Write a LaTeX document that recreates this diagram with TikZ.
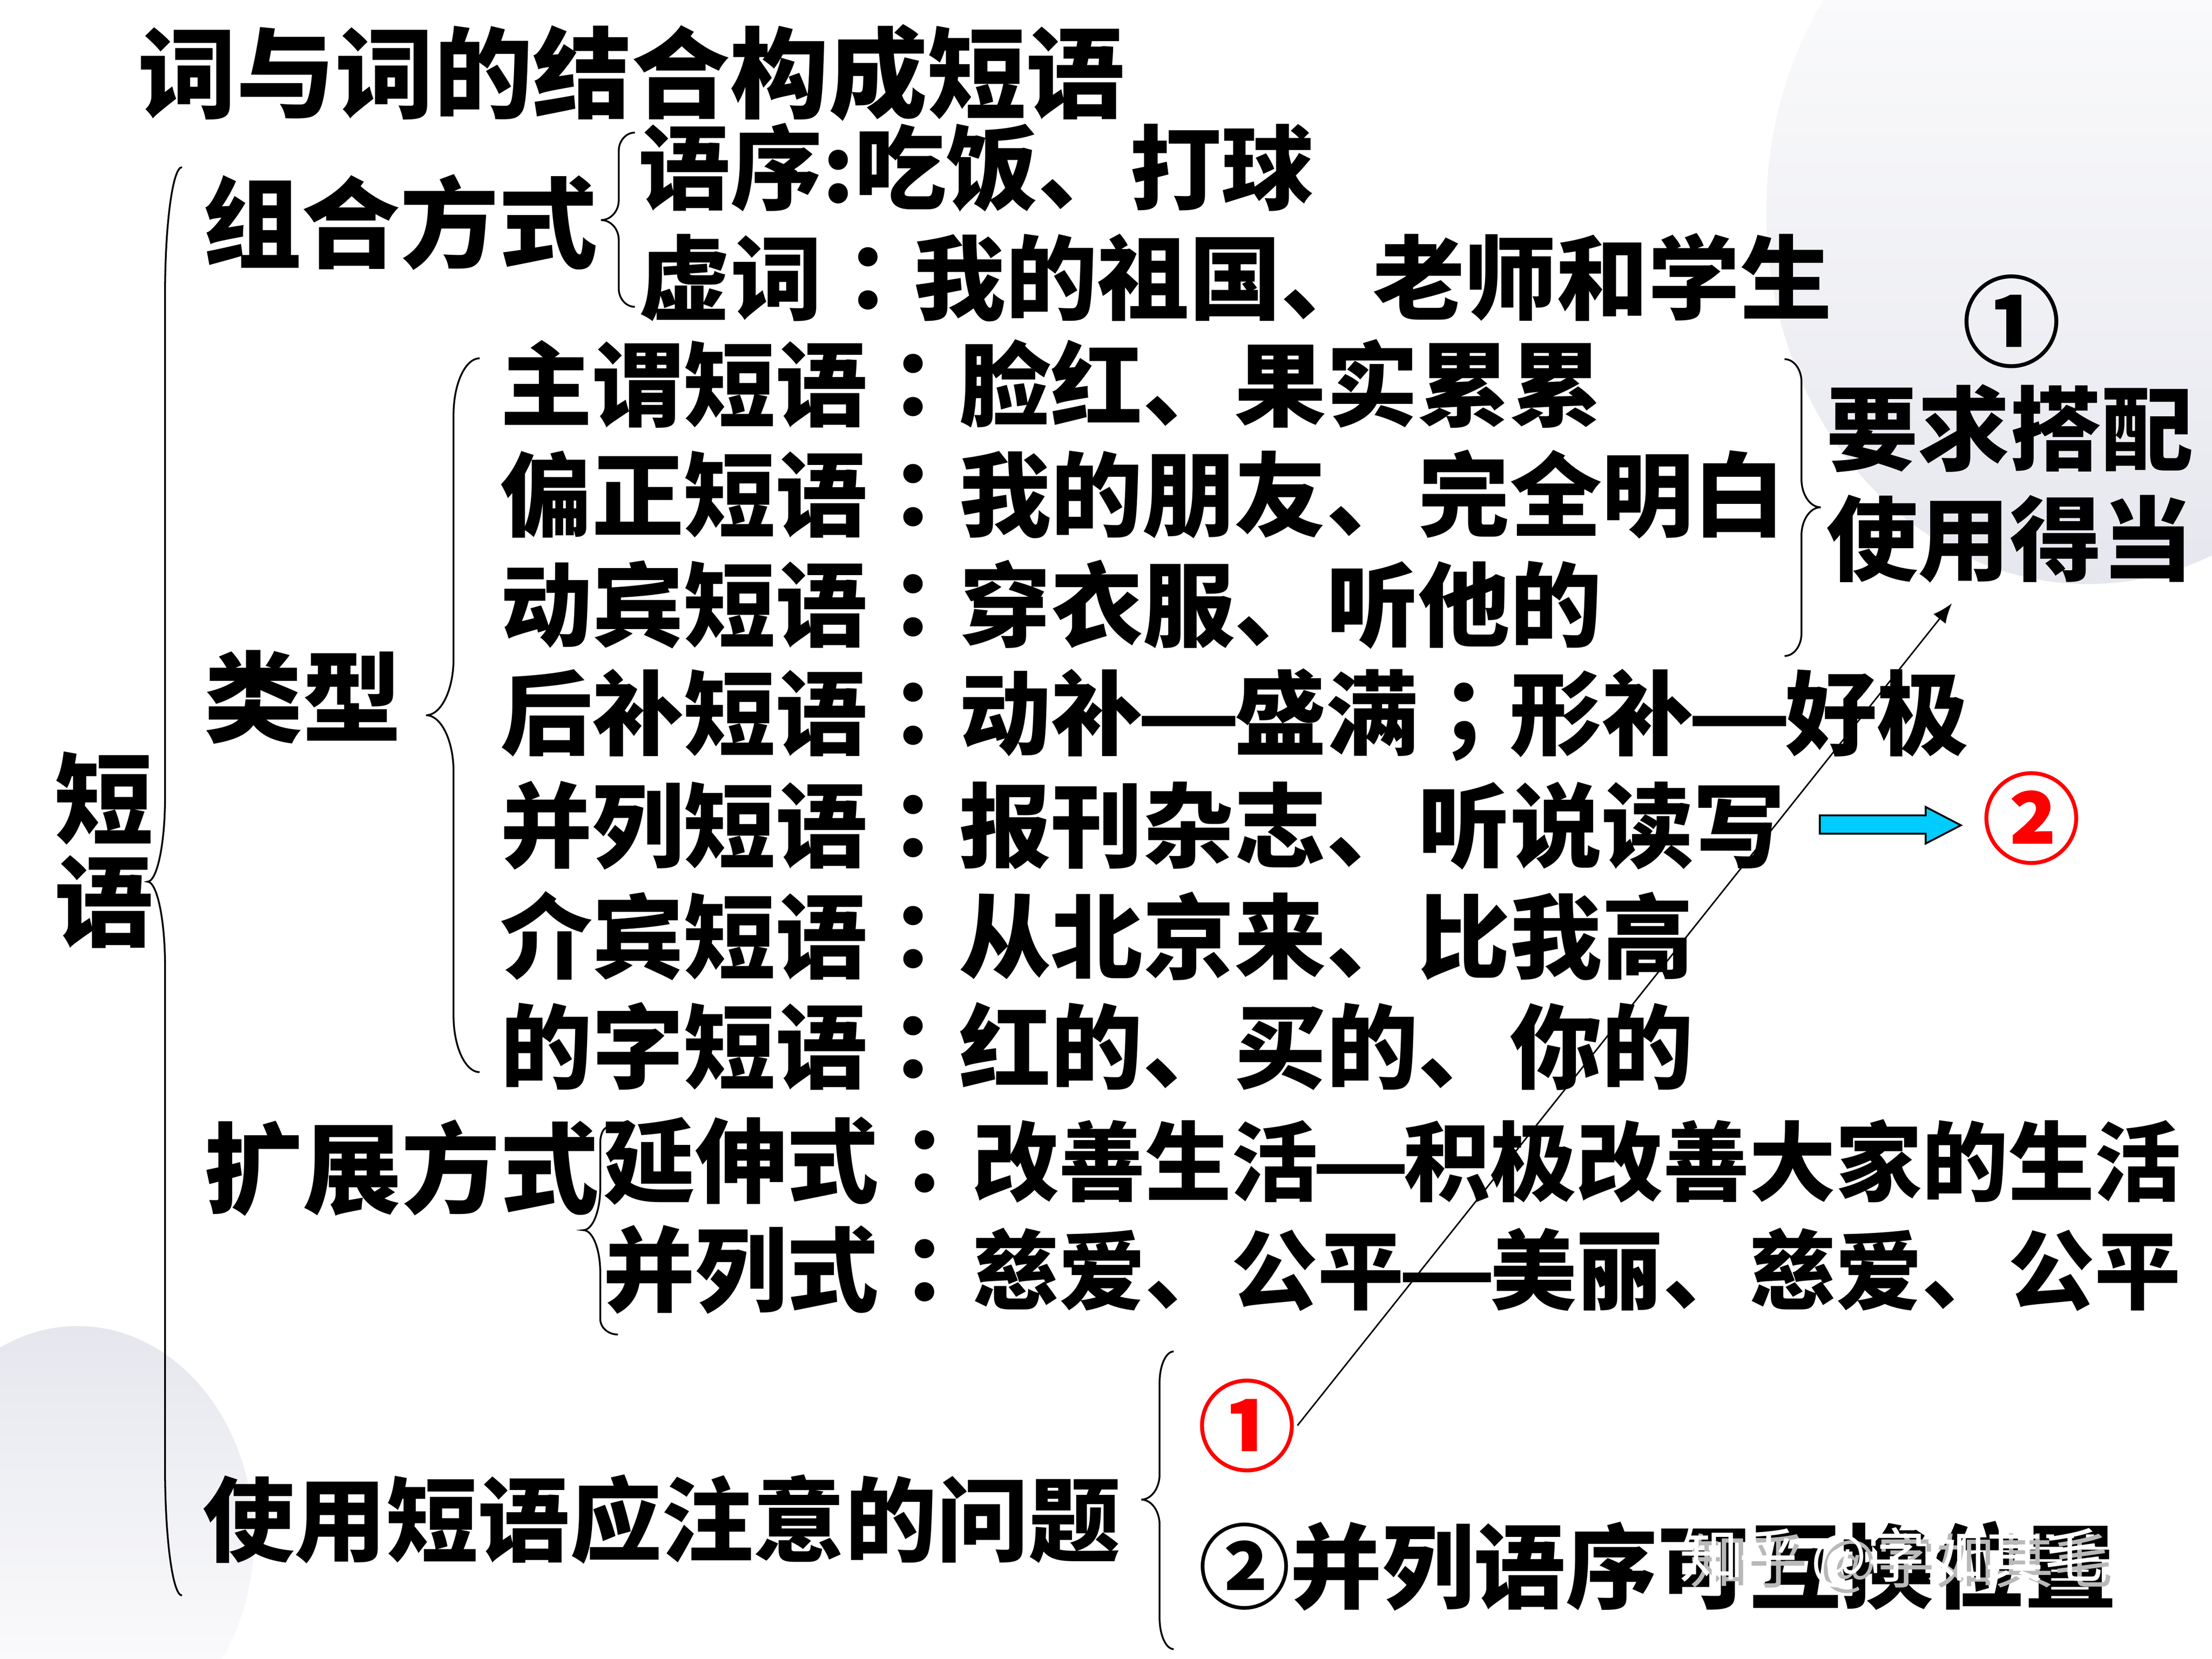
\documentclass[tikz,border=0pt]{standalone}
\usepackage{fontspec}
\setmainfont{Noto Sans CJK SC}
\newfontfamily\tcfont{Noto Sans CJK TC}
\usetikzlibrary{positioning,arrows.meta}
\definecolor{shadegray}{RGB}{230,231,238}
\definecolor{arrowblue}{RGB}{0,204,255}
\newcommand\qcolon{{\tcfont ：}}
\newcommand\qsemi{{\tcfont ；}}
\newcommand\qdash{\makebox[1em]{\scalebox{1.25}[1]{—}}}

\begin{document}
\begin{tikzpicture}[x=0.01cm,y=-0.01cm,
        big/.style={anchor=west,inner sep=0pt,font=\bfseries\fontsize{19.9pt}{20.7pt}\selectfont},
        txt/.style={anchor=west,inner sep=0pt,font=\bfseries\fontsize{18.5pt}{19pt}\selectfont},
        sub/.style={anchor=west,inner sep=0pt,font=\bfseries\fontsize{17.4pt}{18pt}\selectfont},
        circled/.style={inner sep=0pt,font=\bfseries\fontsize{19.9pt}{20pt}\selectfont},
        wm/.style={anchor=west,inner sep=0pt,font=\fontsize{11.9pt}{12pt}\selectfont},
        brace line/.style={line width=0.36pt}]
        \useasboundingbox (0,0) rectangle (1568,1176);
        \shade[top color=white,bottom color=shadegray] (1480,150) ellipse [x radius=228,y radius=264];
        \shade[top color=shadegray,bottom color=white] (55,1090) ellipse [x radius=125,y radius=150];

        \node[big] (title) at (97,51.5) {词与词的结合构成短语};
        \node[big,align=left] (dy) at (38,602.5) {短\\语};
        \node[big] (zh) at (143,157.5) {组合方式};
        \node[txt] (yx) at (452,118.7) {语序:吃饭、打球};
        \node[txt] (xc) at (452,196.7) {虚词\qcolon 我的祖国、老师和学生};
        \node[big] (lx) at (144,494) {类型};
        \foreach \t [count=\i from 0] in {主谓短语\qcolon 脸红、果实累累,偏正短语\qcolon 我的朋友、完全明白,动宾短语\qcolon 穿衣服、听他的,后补短语\qcolon 动补\qdash 盛满\qsemi 形补\qdash 好极,并列短语\qcolon 报刊杂志、听说读写,介宾短语\qcolon 从北京来、比我高,的字短语\qcolon 红的、买的、你的}{
            \node[txt] (t\i) at (354,{272+78.3*\i}) {\t};
        }
        \node[txt] (yq) at (1294,303.5) {要求搭配};
        \node[txt] (sy) at (1294,382) {使用得当};
        \node[big] (kz) at (144,828) {扩展方式};
        \node[txt] (ys) at (427,823) {延伸式\qcolon};
        \node[sub,right=0pt of ys] (ysa) {改善生活\qdash 积极改善大家的生活};
        \node[txt] (bl) at (427,900) {并列式\qcolon};
        \node[sub,right=0pt of bl] (bla) {慈爱、公平\qdash 美丽、慈爱、公平};
        \node[txt] (wt) at (143,1077) {使用短语应注意的问题};
        \node[txt] (n2) at (849,1110) {②并列语序可互换位置};
        \node[circled] (b1) at (1426,228) {①};
        \node[circled,text=red] (r1) at (884,1010.5) {①};
        \node[circled,text=red] (r2) at (1440,580) {②};

        \foreach \xa/\xb/\xm/\xl/\yt/\ym/\yb/\hk/\tk in {129/129/117/104.5/118.5/625/1131/90/60,450/450/438.6/426/94/156/217.5/13/14,340/340/321.5/302/254/507/760/40/40,431/438/425.5/413.5/799/872/946/11/30,832/832/822/809/958/1063/1169/22/18,1265/1265/1277/1290.6/254.6/359.6/465/16/20}{
            \draw[brace line] (\xa,\yt) .. controls ({\xa-0.55*(\xa-\xm)},\yt) and (\xm,{\yt+0.45*\hk}) .. (\xm,{\yt+\hk})
                -- (\xm,{\ym-\tk}) .. controls (\xm,{\ym-0.45*\tk}) and ({\xl+0.55*(\xm-\xl)},\ym) .. (\xl,\ym)
                .. controls ({\xl+0.55*(\xm-\xl)},\ym) and (\xm,{\ym+0.45*\tk}) .. (\xm,{\ym+\tk})
                -- (\xm,{\yb-\hk}) .. controls (\xm,{\yb-0.45*\hk}) and ({\xb-0.55*(\xb-\xm)},\yb) .. (\xb,\yb);
        }

        \coordinate (tip) at (1383.6,427.7);
        \draw[line width=0.3pt,-{Latex[length=1.4mm,width=1.1mm]}] (r1.east) -- (tip);
        \draw[line width=0.37pt,fill=arrowblue] (1290,578) -- (1365,578) -- (1365,572) -- (1390,585) -- (1365,598) -- (1365,591) -- (1290,591) -- cycle;

        \node[wm,text=gray!55] (wms) at (1197,1108) {知乎 @字如其毛};
        \node[wm,text=white] (wm) at (1190,1104) {知乎 @字如其毛};
    \end{tikzpicture}
\end{document}
